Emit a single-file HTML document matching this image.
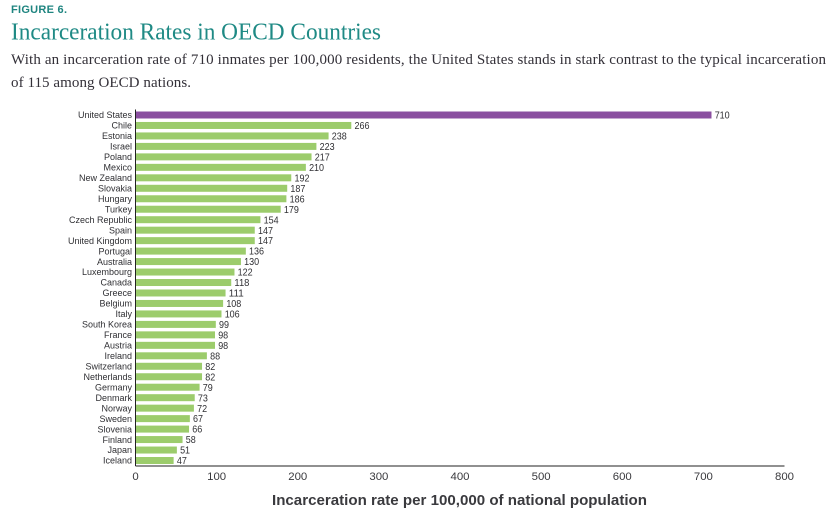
<!DOCTYPE html>
<html lang="en">
<head>
<meta charset="utf-8">
<title>Incarceration Rates in OECD Countries</title>
<style>
html,body{margin:0;padding:0;background:#fff;width:827px;height:521px;overflow:hidden}
svg{display:block}
</style>
</head>
<body>
<svg id="chart" xmlns="http://www.w3.org/2000/svg" width="827" height="521" viewBox="0 0 827 521">
<text x="11" y="13" font-family="'Liberation Sans',sans-serif" font-size="11" font-weight="700" fill="#1f8580" textLength="56" lengthAdjust="spacing">FIGURE 6.</text>
<text x="11" y="39.5" font-family="'Liberation Serif',serif" font-size="24.4" fill="#1f8a85" textLength="370" lengthAdjust="spacingAndGlyphs">Incarceration Rates in OECD Countries</text>
<text x="11" y="64" font-family="'Liberation Serif',serif" font-size="15" fill="#333038" textLength="815" lengthAdjust="spacing">With an incarceration rate of 710 inmates per 100,000 residents, the United States stands in stark contrast to the typical incarceration</text>
<text x="11" y="87" font-family="'Liberation Serif',serif" font-size="15" fill="#333038" textLength="180" lengthAdjust="spacing">of 115 among OECD nations.</text>
<g id="bars"></g>
<g id="axes"></g>
</svg>
<script>
const countries = ["United States","Chile","Estonia","Israel","Poland","Mexico","New Zealand","Slovakia","Hungary","Turkey","Czech Republic","Spain","United Kingdom","Portugal","Australia","Luxembourg","Canada","Greece","Belgium","Italy","South Korea","France","Austria","Ireland","Switzerland","Netherlands","Germany","Denmark","Norway","Sweden","Slovenia","Finland","Japan","Iceland"];
const rates = [710,266,238,223,217,210,192,187,186,179,154,147,147,136,130,122,118,111,108,106,99,98,98,88,82,82,79,73,72,67,66,58,51,47];
const xTicks = [0,100,200,300,400,500,600,700,800];
const highlighted = ["United States"];

const NS = "http://www.w3.org/2000/svg";
const FONT = "'Liberation Sans','DejaVu Sans',sans-serif";
const xScale = v => 135.5 + v * (784.5 - 135.5) / 800;
const yScale = i => 115 + i * (460.5 - 115) / (countries.length - 1);
const BAR_H = 7;

function make(tag, attrs, parent, txt) {
  const el = document.createElementNS(NS, tag);
  for (const k in attrs) el.setAttribute(k, attrs[k]);
  if (txt !== undefined) el.textContent = txt;
  parent.appendChild(el);
  return el;
}

const barsG = document.getElementById("bars");
const axesG = document.getElementById("axes");

countries.forEach((c, i) => {
  const y = yScale(i);
  const label = make("text", {x:132, y:y + 3.2, "text-anchor":"end", "font-family":FONT, "font-size":9, fill:"#2f2f33"}, barsG, c);
  
  
  const bar = make("rect", {x:xScale(0), y:y - BAR_H / 2, width:xScale(rates[i]) - xScale(0), height:BAR_H, fill:highlighted.includes(c) ? "#8a4fa0" : "#9ccc6c"}, barsG);
  
  
  const text = String(rates[i]);
  const val = make("text", {x:xScale(rates[i]) + 3.2, y:y + 3.6, "font-family":FONT, "font-size":10.2, fill:"#2f2f33", textLength:text.length * 5, lengthAdjust:"spacingAndGlyphs"}, barsG, text);
  
  
});

const yAxis = make("line", {x1:xScale(0), x2:xScale(0), y1:109.5, y2:466, stroke:"#222", "stroke-width":1}, axesG);


const xAxis = make("line", {x1:xScale(0), x2:xScale(800), y1:466, y2:466, stroke:"#222", "stroke-width":1}, axesG);



xTicks.forEach(t => {
  const tick = make("text", {x:xScale(t), y:480, "text-anchor":"middle", "font-family":FONT, "font-size":11.4, fill:"#3a3a3e"}, axesG, String(t));
  
  
});

const xTitle = make("text", {x:459.5, y:505, "text-anchor":"middle", "font-family":FONT, "font-size":15, "font-weight":700, fill:"#3a3a3e", textLength:375, lengthAdjust:"spacingAndGlyphs"}, axesG, "Incarceration rate per 100,000 of national population");


</script>
</body>
</html>
